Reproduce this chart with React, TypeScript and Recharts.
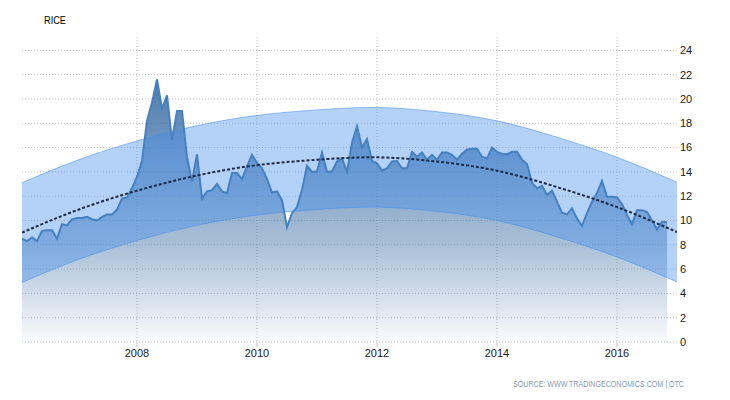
import React from 'react';
import { ComposedChart, Area, Line, XAxis, YAxis, CartesianGrid } from 'recharts';

const TITLE = 'RICE';
const SOURCE = 'SOURCE: WWW.TRADINGECONOMICS.COM | OTC';

// Monthly rice price, Feb 2006 .. Nov 2016
const FIRST_YEAR = 2006;
const FIRST_MONTH_INDEX = 1; // February
const price = [
  8.5, 8.3, 8.6, 8.3, 9.15, 9.2, 9.2, 8.5, 9.7, 9.6,
  10.1, 10.2, 10.2, 10.3, 10.1, 10.0, 10.3, 10.5, 10.5, 10.9,
  11.8, 11.9, 12.65, 13.6, 14.9, 18.2, 19.7, 21.6, 19.2, 20.3,
  16.6, 19.0, 19.0, 15.2, 13.2, 15.45, 11.8, 12.4, 12.5, 13.0,
  12.4, 12.25, 13.9, 13.9, 13.4, 14.45, 15.4, 14.75, 14.3, 13.4,
  12.3, 12.4, 11.65, 9.45, 10.6, 11.1, 12.5, 14.5, 14.0, 14.05,
  15.6, 14.0, 14.05, 14.85, 15.1, 14.0, 16.4, 17.75, 16.0, 16.7,
  14.9, 14.7, 14.1, 14.3, 14.85, 14.9, 14.3, 14.3, 15.65, 15.25,
  15.6, 15.0, 15.4, 15.0, 15.6, 15.6, 15.4, 15.0, 15.5, 15.85,
  15.9, 15.9, 15.25, 15.1, 16.0, 15.65, 15.5, 15.45, 15.65, 15.65,
  15.0, 14.65, 13.1, 12.65, 12.85, 12.1, 12.45, 11.55, 10.65, 10.5,
  11.0, 10.15, 9.55, 10.6, 11.55, 12.25, 13.25, 11.95, 11.95, 11.9,
  11.35, 10.45, 9.7, 10.85, 10.85, 10.7, 10.0, 9.25, 9.9, 9.85,
];

// Trend curve and its band, read at yearly points
const fitYears = [2006 + 1 / 12, 2007, 2008, 2009, 2010, 2011, 2012, 2013, 2014, 2015, 2016, 2017];
const trend = [9.0, 10.85, 12.45, 13.7, 14.55, 15.0, 15.2, 14.85, 14.1, 12.75, 11.1, 9.05];
const bandHigh = [13.1, 14.95, 16.55, 17.8, 18.65, 19.1, 19.3, 18.95, 18.2, 16.85, 15.2, 13.15];
const bandLow = [4.9, 6.75, 8.35, 9.6, 10.45, 10.9, 11.1, 10.75, 10.0, 8.65, 7.0, 4.95];

const xTicks = [2008, 2010, 2012, 2014, 2016];
const yTicks = [0, 2, 4, 6, 8, 10, 12, 14, 16, 18, 20, 22, 24];

type Row = { t: number; price?: number; trend?: number; band?: [number, number] };

const rowMap = new Map<number, Row>();
price.forEach((v, i) => {
  const k = FIRST_YEAR * 12 + FIRST_MONTH_INDEX + i;
  rowMap.set(k, { t: k / 12, price: v });
});
fitYears.forEach((y, i) => {
  const k = Math.round(y * 12);
  const r: Row = rowMap.get(k) ?? { t: k / 12 };
  r.trend = trend[i];
  r.band = [bandLow[i], bandHigh[i]];
  rowMap.set(k, r);
});
const data: Row[] = Array.from(rowMap.values()).sort((a, b) => a.t - b.t);

const FONT = '"Liberation Sans", Arial, sans-serif';

export default function App() {
  return (
    <div style={{ position: 'absolute', left: 0, top: 0, width: 730, height: 400, background: '#fff' }}>
      <ComposedChart width={730} height={400} data={data} margin={{ top: 37, right: 8, bottom: 28, left: 22 }}>
        <defs>
          <linearGradient id="priceFill" x1="0" y1="0" x2="0" y2="1">
            <stop offset="0" stopColor="rgb(60,110,165)" stopOpacity={0.9} />
            <stop offset="0.08" stopColor="rgb(60,110,165)" stopOpacity={0.85} />
            <stop offset="0.63" stopColor="rgb(60,110,165)" stopOpacity={0.44} />
            <stop offset="1" stopColor="rgb(60,110,165)" stopOpacity={0.03} />
          </linearGradient>
        </defs>
        <CartesianGrid
          stroke="#c4c4c4"
          strokeDasharray="1 2"
          horizontalValues={yTicks}
          verticalValues={xTicks}
        />
        <XAxis
          type="number"
          dataKey="t"
          domain={[FIRST_YEAR + FIRST_MONTH_INDEX / 12, 2017]}
          allowDataOverflow
          ticks={xTicks}
          tickFormatter={(v: number) => String(v)}
          axisLine={false}
          tickSize={5}
          tickMargin={2}
          tickLine={{ stroke: '#c4c4c4' }}
          tick={{ fontSize: 11, fill: '#1a1a1a', fontFamily: FONT }}
          height={30}
        />
        <YAxis
          orientation="right"
          type="number"
          domain={[0, 25.1]}
          allowDataOverflow
          ticks={yTicks}
          width={45}
          axisLine={false}
          tickLine={false}
          tickSize={0}
          tickMargin={3}
          tick={{ fontSize: 11, fill: '#1a1a1a', fontFamily: FONT, textAnchor: 'start' }}
        />
        <Area
          dataKey="price"
          type="linear"
          fill="url(#priceFill)"
          fillOpacity={1}
          stroke="none"
          dot={false}
          activeDot={false}
          isAnimationActive={false}
        />
        <Area
          dataKey="band"
          type="natural"
          connectNulls
          fill="rgb(68,142,237)"
          fillOpacity={0.4}
          stroke="rgba(68,142,237,0.55)"
          strokeWidth={1}
          dot={false}
          activeDot={false}
          isAnimationActive={false}
        />
        <Line
          dataKey="price"
          type="linear"
          stroke="#4581c1"
          strokeWidth={2}
          dot={false}
          activeDot={false}
          isAnimationActive={false}
        />
        <Line
          dataKey="trend"
          type="natural"
          connectNulls
          stroke="#1c2a44"
          strokeWidth={2}
          strokeDasharray="3 2"
          dot={false}
          activeDot={false}
          isAnimationActive={false}
        />
      </ComposedChart>
      <svg
        width={730}
        height={400}
        style={{ position: 'absolute', left: 0, top: 0, pointerEvents: 'none' }}
      >
        <text x={44} y={24} fontSize={11} fontFamily={FONT} fill="#000" textLength={22} lengthAdjust="spacingAndGlyphs">
          {TITLE}
        </text>
        <text x={513} y={387} fontSize={8.5} fontFamily={FONT} fill="#8a9bb1" textLength={171} lengthAdjust="spacingAndGlyphs">
          {SOURCE}
        </text>
      </svg>
    </div>
  );
}
